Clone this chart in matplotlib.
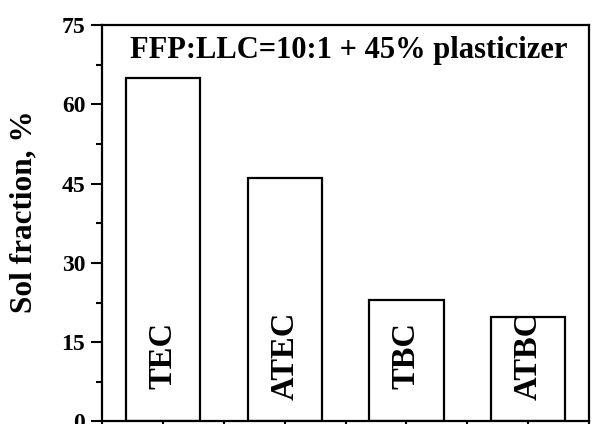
import matplotlib.pyplot as plt
from matplotlib.ticker import MultipleLocator

plasticizers = ['TEC', 'ATEC', 'TBC', 'ATBC']
sol_fraction = [65.0, 46.0, 23.0, 19.8]
positions = [1, 2, 3, 4]

plt.rcParams['font.family'] = ['Liberation Serif', 'DejaVu Serif']

fig = plt.figure(figsize=(5.94, 4.24), dpi=100)
ax = fig.add_axes([0.1717, 0.006, 0.82, 0.935])

ax.bar(positions, sol_fraction, width=0.61, facecolor='white',
       edgecolor='black', linewidth=1.6, zorder=2)

for x, name in zip(positions, plasticizers):
    ax.text(x, 12.4, name, rotation=90, ha='center', va='center',
            fontsize=23.5, fontweight='bold', zorder=3)

ax.text(0.507, 0.935, 'FFP:LLC=10:1 + 45% plasticizer', transform=ax.transAxes,
        ha='center', va='center', fontsize=22, fontweight='bold')

ax.set_xlim(0.5, 4.5)
ax.set_ylim(0, 75)
ax.yaxis.set_major_locator(MultipleLocator(15))
ax.yaxis.set_minor_locator(MultipleLocator(7.5))
ax.xaxis.set_major_locator(MultipleLocator(1))
ax.xaxis.set_minor_locator(MultipleLocator(0.5))
ax.set_xticklabels([])

ax.tick_params(axis='y', which='major', direction='out', length=8, width=1.5,
               labelsize=17, pad=4)
ax.tick_params(axis='y', which='minor', direction='out', length=4, width=1.5)
ax.tick_params(axis='x', which='both', direction='out', length=6, width=1.5)
for lbl in ax.get_yticklabels():
    lbl.set_fontweight('bold')

for spine in ax.spines.values():
    spine.set_linewidth(1.6)

ax.set_ylabel('Sol fraction, %', fontsize=22.5, fontweight='bold')
ax.yaxis.set_label_coords(-0.13, 0.528)

fig.savefig('out.png', dpi=100, facecolor='white')
